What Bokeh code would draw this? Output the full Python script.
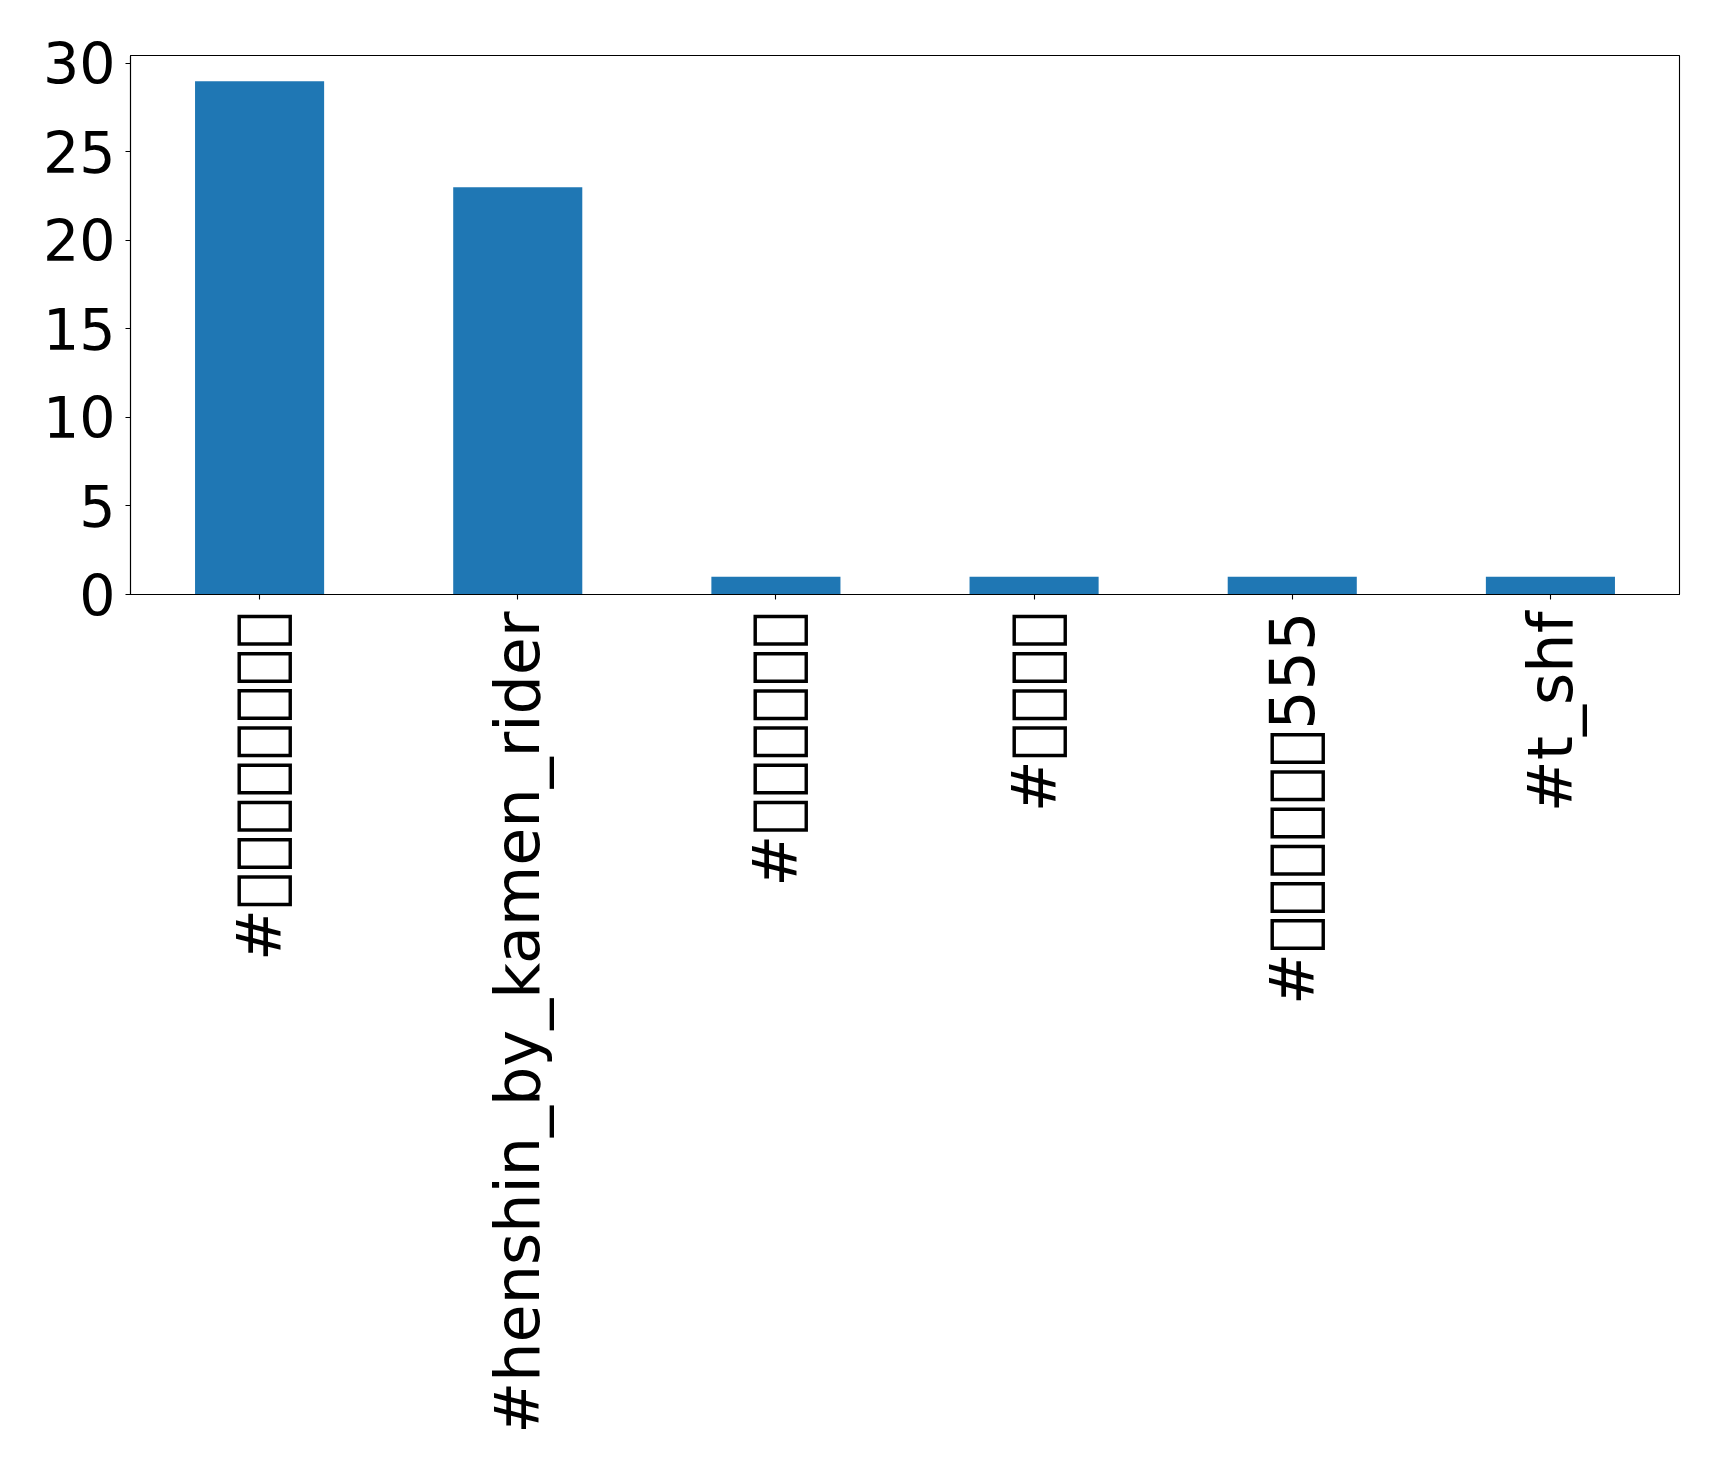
import math
from bokeh.plotting import figure
from bokeh.models import ColumnDataSource, FixedTicker, Range1d
from bokeh.embed import file_html
from bokeh.resources import INLINE

BOX = "\uE000"
categories = [
    "#" + BOX * 8,
    "#henshin_by_kamen_rider",
    "#" + BOX * 6,
    "#" + BOX * 4,
    "#" + BOX * 6 + "555",
    "#t_shf",
]
counts = [29, 23, 1, 1, 1, 1]
y_ticks = [0, 5, 10, 15, 20, 25, 30]

source = ColumnDataSource(data=dict(tag=categories, count=counts))

p = figure(
    x_range=categories,
    y_range=Range1d(0, 30.45),
    frame_width=1549,
    frame_height=539,
    min_border_left=130,
    min_border_top=55,
    min_border_right=32,
    min_border_bottom=850,
    output_backend="svg",
    toolbar_location=None,
    background_fill_color="white",
    border_fill_color="white",
)

p.vbar(x="tag", top="count", width=0.5, source=source,
       fill_color="#1f77b4", line_color=None)

p.outline_line_color = "black"
p.outline_line_width = 1.1
p.xgrid.visible = False
p.ygrid.visible = False

for ax in (p.xaxis[0], p.yaxis[0]):
    ax.axis_line_color = "black"
    ax.axis_line_width = 1.1
    ax.major_tick_line_color = "black"
    ax.major_tick_line_width = 1.1
    ax.major_tick_out = 5
    ax.major_tick_in = 0
    ax.minor_tick_line_color = None
    ax.major_label_text_font = "DejaVu Sans"
    ax.major_label_text_color = "black"

p.yaxis.major_label_text_font_size = "57px"
p.yaxis.major_label_standoff = 10
p.yaxis.ticker = FixedTicker(ticks=y_ticks)
p.xaxis.major_label_text_font_size = "62px"
p.xaxis.major_label_orientation = math.pi / 2
p.xaxis.major_label_standoff = 12

open("out.html", "w").write(file_html(p, INLINE))
